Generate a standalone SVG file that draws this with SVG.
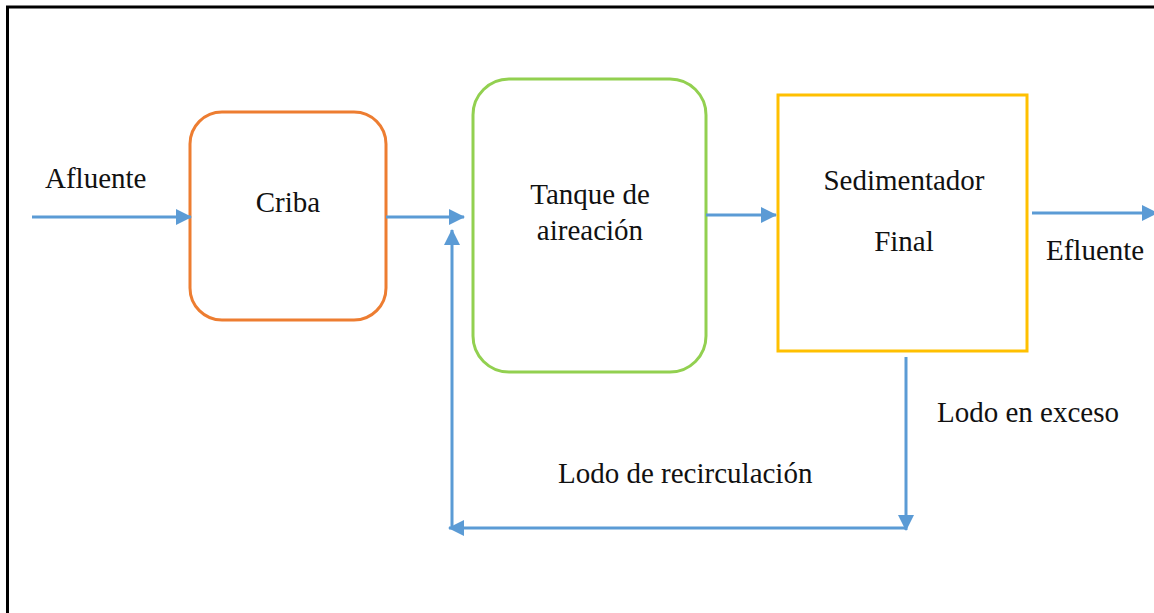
<svg xmlns="http://www.w3.org/2000/svg" width="1154" height="613" viewBox="0 0 1154 613">
<style>
text{font-size:29px;fill:#111}
.c{text-anchor:middle}
.ln{stroke:#5B9BD5;stroke-width:3;fill:none}
.node{fill:#fff;stroke-width:3}
</style>
<defs>
<marker id="ah" markerUnits="userSpaceOnUse" markerWidth="16" markerHeight="18" refX="15" refY="9" orient="auto">
<path d="M0,1 L16,9 L0,17 Z" fill="#5B9BD5"/>
</marker>
</defs>
<rect x="0" y="0" width="1154" height="613" fill="#fff"/>
<rect x="7.5" y="7" width="1160" height="630" fill="none" stroke="#000" stroke-width="3"/>
<g font-family="Liberation Serif, DejaVu Serif, serif">
<g id="criba"><rect class="node" x="190" y="112" width="196" height="208" rx="32" stroke="#ED7D31"/><text class="c" x="288" y="212">Criba</text></g>
<g id="tanque"><rect class="node" x="473" y="79" width="233" height="293" rx="36" stroke="#92D050"/><text class="c" x="590" y="204">Tanque de</text><text class="c" x="590" y="240">aireación</text></g>
<g id="sedimentador"><rect class="node" x="778" y="95" width="249" height="256" stroke="#FFC000"/><text class="c" x="904" y="190">Sedimentador</text><text class="c" x="904" y="251">Final</text></g>
<g id="connectors">
<line class="ln" x1="32" y1="217" x2="191" y2="217" marker-end="url(#ah)"/>
<line class="ln" x1="386" y1="217" x2="464" y2="217" marker-end="url(#ah)"/>
<line class="ln" x1="706" y1="215" x2="776" y2="215" marker-end="url(#ah)"/>
<line class="ln" x1="1032" y1="213" x2="1157" y2="213" marker-end="url(#ah)"/>
<line class="ln" x1="906" y1="357" x2="906" y2="530" marker-end="url(#ah)"/>
<line class="ln" x1="906" y1="528" x2="449" y2="528" marker-end="url(#ah)"/>
<line class="ln" x1="452" y1="529" x2="452" y2="230" marker-end="url(#ah)"/>
</g>
<g id="labels">
<text x="45" y="188">Afluente</text>
<text x="1046" y="260">Efluente</text>
<text x="937" y="422">Lodo en exceso</text>
<text x="558" y="483">Lodo de recirculación</text>
</g>
</g>
</svg>
